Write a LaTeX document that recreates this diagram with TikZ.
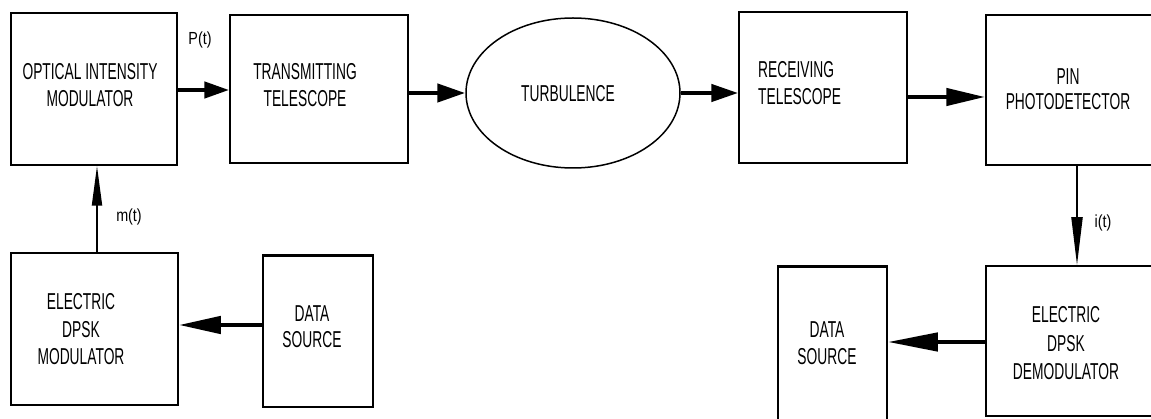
\documentclass[tikz,border=0pt]{standalone}
\usepackage{fontspec}
\setmainfont{Liberation Sans}[FakeStretch=0.60]
\newfontfamily\lblfont{Liberation Sans}[FakeStretch=0.82]
\usetikzlibrary{arrows.meta,shapes.geometric}
\begin{document}
\begin{tikzpicture}[x=1pt,y=-1pt,
  blk/.style={draw,line width=1.5pt,rectangle,inner sep=0pt},
  txt/.style={font=\fontsize{23}{27.5}\selectfont,inner sep=0pt,anchor=base,align=center},
  lbl/.style={font=\lblfont\fontsize{17.5}{20}\selectfont,inner sep=0pt,anchor=base},
  thick arrow/.style={line width=4.5pt},
  thin arrow/.style={line width=2pt}]
\useasboundingbox[fill=white] (0,0) rectangle (1151,419);
\begin{scope}
\clip (0,0) rectangle (1151,419);
% boxes
\node[blk,minimum width=166pt,minimum height=152pt] (b1) at (94,89) {};
\node[blk,minimum width=178pt,minimum height=148pt] (b2) at (319,89) {};
\node[draw,line width=1.5pt,ellipse,inner sep=0pt,minimum width=214pt,minimum height=150pt] (ell) at (573,93) {};
\node[blk,minimum width=168pt,minimum height=151pt] (b3) at (823,87.5) {};
\node[blk,minimum width=174pt,minimum height=150pt] (b4) at (1073,90) {};
\node[blk,minimum width=174pt,minimum height=150pt] (b5) at (1073,341) {};
\node[blk,minimum width=109pt,minimum height=158pt] (b6) at (832.5,346) {};
\node[blk,minimum width=167pt,minimum height=152pt] (b7) at (94.5,329) {};
\node[blk,minimum width=110pt,minimum height=151pt] (b8) at (318,331.5) {};
% thicker top edges of the data-source boxes
\draw[line width=3pt] (b6.north west) -- (b6.north east);
\draw[line width=3pt] (b8.north west) -- (b8.north east);
% texts (anchor = baseline of last line)
\node[txt] (t1) at (90,107) {OPTICAL INTENSITY\\MODULATOR};
\node[txt] (t2) at (305,107) {TRANSMITTING\\TELESCOPE};
\node[txt] (te) at (568,102) {TURBULENCE};
\node[txt,anchor=base west,align=left] (t3) at (758,105) {RECEIVING\\TELESCOPE};
\node[txt,font=\fontsize{23}{25.5}\selectfont] (t4) at (1068,110) {PIN\\PHOTODETECTOR};
\node[txt,font=\fontsize{23}{28.5}\selectfont] (t5) at (1066,380) {ELECTRIC\\DPSK\\DEMODULATOR};
\node[txt] (t6) at (827,365) {DATA\\SOURCE};
\node[txt] (t7) at (81,365) {ELECTRIC\\DPSK\\MODULATOR};
\node[txt,font=\fontsize{23}{26}\selectfont] (t8) at (312,348) {DATA\\SOURCE};
% labels
\node[lbl] (lp) at (200,45) {P(t)};
\node[lbl] (lm) at (129,222) {m(t)};
\node[lbl] (li) at (1103,228) {i(t)};
% connectors
\draw[thick arrow,-{Triangle[length=25pt,width=16pt]}] (b1.east |- 0,90) -- (b2.west |- 0,90);
\draw[thick arrow,-{Triangle[length=28pt,width=18pt]}] (b2.east |- ell.west) -- (ell.west);
\draw[thick arrow,-{Triangle[length=27pt,width=17pt]}] (ell.east) -- (b3.west |- ell.east);
\draw[thick arrow,-{Triangle[length=39pt,width=17pt]}] (b3.east |- 0,97) -- (b4.west |- 0,97);
\draw[thin arrow,-{Triangle[length=48pt,width=11pt]}] (1077,0 |- b4.south) -- (1077,0 |- b5.north);
\draw[thick arrow,-{Triangle[length=50pt,width=18pt]}] (b5.west |- 0,342) -- (b6.east |- 0,342);
\draw[thick arrow,-{Triangle[length=42pt,width=17pt]}] (b8.west |- 0,325) -- (b7.east |- 0,325);
\draw[thin arrow,-{Triangle[length=40pt,width=10pt]}] (97,0 |- b7.north) -- (97,0 |- b1.south);
\end{scope}
\end{tikzpicture}
\end{document}
